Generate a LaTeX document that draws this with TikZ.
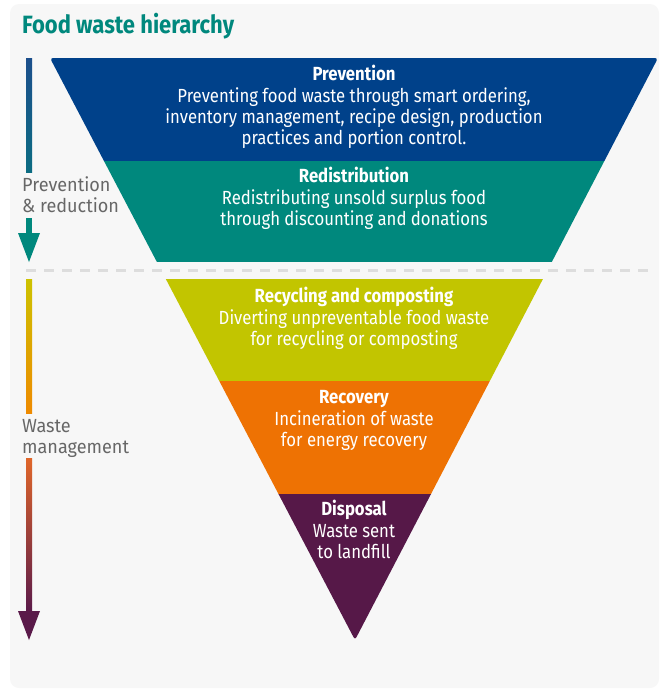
\documentclass[tikz,border=0pt]{standalone}
\usepackage{fontspec}
\setmainfont{Fira Sans}[FakeStretch=0.88]
\newfontfamily\sidefont{Fira Sans}[FakeStretch=0.95]
\definecolor{panel}{HTML}{F7F7F7}
\definecolor{prevblue}{HTML}{00418A}
\definecolor{redteal}{HTML}{00887D}
\definecolor{recolive}{HTML}{C2C500}
\definecolor{recorange}{HTML}{EE7203}
\definecolor{dispurple}{HTML}{561848}
\definecolor{labgray}{HTML}{676767}
\definecolor{dashgray}{HTML}{DDDDDD}
\definecolor{arrowtop}{HTML}{1C4F8C}
\definecolor{arrowmid}{HTML}{0C6C82}
\definecolor{arrowyel}{HTML}{CDC200}
\definecolor{arroworg}{HTML}{EE8A00}
\definecolor{arrowred}{HTML}{E0662A}
\definecolor{arrowpur}{HTML}{5A1A4A}
\begin{document}
\begin{tikzpicture}[x=1pt,y=-1pt,
  bandtext/.style={text=white, align=center, anchor=base, inner sep=0pt,
    font=\fontsize{19}{21}\selectfont},
  sidetext/.style={text=labgray, align=left, anchor=base west, inner sep=0pt,
    font=\sidefont\fontsize{19}{21}\selectfont},
  titletext/.style={text=redteal, anchor=base west, inner sep=0pt,
    font=\fontsize{25}{30}\selectfont\bfseries}]
\useasboundingbox (0,0) rectangle (661,689);
\fill[panel, rounded corners=9pt] (10,4) rectangle (659,688);
% title
\node[titletext] (title) at (22,33) {Food waste hierarchy};
% inverted triangle bands
\begin{scope}
  \clip[rounded corners=3pt] (50,58) -- (658,58) -- (355,640) -- cycle;
  \fill[prevblue] (40,57) rectangle (670,161);
  \fill[redteal] (40,161) rectangle (670,262);
  \fill[recolive] (40,279) rectangle (670,381);
  \fill[recorange] (40,381) rectangle (670,494);
  \fill[dispurple] (40,494) rectangle (670,645);
\end{scope}
% dashed separator
\draw[dashgray, line width=3pt, dash pattern=on 10pt off 8pt] (26,270) -- (654,270);
% left arrows
\shade[top color=arrowtop, bottom color=arrowmid] (26,58) rectangle (32,172);
\fill[redteal] (26,218) rectangle (32,234);
\fill[redteal] (18,233) -- (40,233) -- (29,262) -- cycle;
\shade[top color=arrowyel, bottom color=arroworg] (26,279) rectangle (32,413);
\shade[top color=arrowred, bottom color=arrowpur] (26,458) rectangle (32,612);
\fill[arrowpur] (18,611) -- (40,611) -- (29,640) -- cycle;
% side labels (anchor = baseline of last line)
\node[sidetext] (prlabel) at (22,212) {Prevention\\\& reduction};
\node[sidetext] (wmlabel) at (22,453) {Waste\\management};
% band texts (anchor = baseline of last line)
\node[bandtext] (prev) at (354,144) {\textbf{Prevention}\\[1pt]Preventing food waste through smart ordering,\\inventory management, recipe design, production\\practices and portion control.};
\node[bandtext] (redist) at (354,225) {\textbf{Redistribution}\\[1pt]Redistributing unsold surplus food\\through discounting and donations};
\node[bandtext] (recyc) at (354,345) {\textbf{Recycling and composting}\\[1pt]Diverting unpreventable food waste\\for recycling or composting};
\node[bandtext] (recov) at (354,446) {\textbf{Recovery}\\[1pt]Incineration of waste\\for energy recovery};
\node[bandtext] (disp) at (354,558) {\textbf{Disposal}\\[1pt]Waste sent\\to landfill};
\end{tikzpicture}
\end{document}
